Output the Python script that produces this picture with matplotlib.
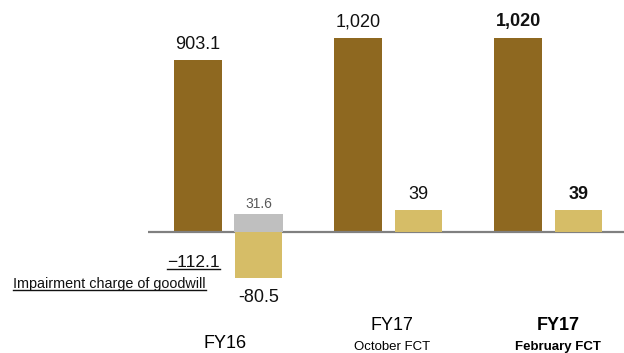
import matplotlib.pyplot as plt
import matplotlib.transforms as mtransforms

plt.rcParams['font.family'] = ['Liberation Sans', 'DejaVu Sans']

# data
periods = ['FY16', 'FY17', 'FY17']
subtitles = ['', 'October FCT', 'February FCT']
sales = [903.1, 1020, 1020]
sales_labels = ['903.1', '1,020', '1,020']
profit = [-80.5, 39, 39]
profit_labels = ['-80.5', '39', '39']
before_impairment = 31.6
impairment = -112.1

brown = '#8E6820'
gold = '#D6BD67'
grey = '#BFBFBF'

fig = plt.figure(figsize=(6.24, 3.53), dpi=100)
ax = fig.add_axes([0, 0, 1, 1])
ax2 = ax.twinx()

x = list(range(len(periods)))
w = 0.295
off = 0.19

ax.bar([i - off for i in x], sales, width=w, color=brown)
ax2.bar([i + off for i in x], profit, width=w, color=gold)
ax2.bar(x[0] + off, before_impairment, width=w + 0.012, color=grey)

ax.set_xlim(-1.428, 2.472)
ax.set_ylim(-636.2, 1219.8)
ax2.set_ylim(-212.1, 406.6)
ax.hlines(0, -0.503, 2.472, color='#808080', lw=1.6, zorder=3)

for a in (ax, ax2):
    a.axis('off')

# value labels
for i in x:
    bold = 'bold' if i == 2 else 'normal'
    ax.text(i - off, sales[i] + 40, sales_labels[i], ha='center', va='bottom',
            fontsize=13, fontweight=bold, color='#111111')
    if profit[i] > 0:
        ax2.text(i + off, profit[i] + 12, profit_labels[i], ha='center', va='bottom',
                 fontsize=13, fontweight=bold, color='#111111')
    else:
        ax2.text(i + off, profit[i] - 19, profit_labels[i], ha='center', va='top',
                 fontsize=13, color='#111111')

ax2.text(x[0] + off, before_impairment + 5, '31.6', ha='center', va='bottom',
         fontsize=10, color='#595959')

# impairment note
t1 = ax.text(x[0] - 0.22, -160, '\u2212' + str(abs(impairment)), ha='center', va='center',
             fontsize=12.5, color='#111111')
t2 = ax.text(-1.346, -272, 'Impairment charge of goodwill', ha='left', va='center',
             fontsize=10.4, color='#111111')
fig.canvas.draw()
r = fig.canvas.get_renderer()
for t in (t1, t2):
    bb = t.get_window_extent(renderer=r)
    fig.add_artist(plt.Line2D([bb.x0, bb.x1], [bb.y0 + 1, bb.y0 + 1],
                              transform=None, color='#111111', lw=1))

# category labels
trans = mtransforms.blended_transform_factory(ax.transData, fig.transFigure)
lab_x = [-0.02, 1.02, 2.06]
for i in x:
    bold = 'bold' if i == 2 else 'normal'
    if subtitles[i]:
        ax.text(lab_x[i], 1 - 326 / 353, periods[i], transform=trans, ha='center',
                va='center', fontsize=13, fontweight=bold)
        ax.text(lab_x[i], 1 - 347 / 353, subtitles[i], transform=trans, ha='center',
                va='center', fontsize=9.5, fontweight=bold)
    else:
        ax.text(lab_x[i], 1 - 344 / 353, periods[i], transform=trans, ha='center',
                va='center', fontsize=13)

fig.savefig('out.png', dpi=100)
